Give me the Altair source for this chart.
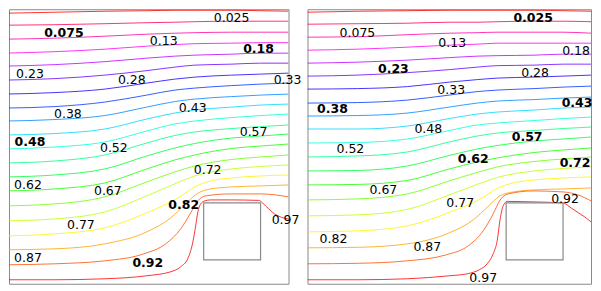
import colorsys
import altair as alt
import pandas as pd

# ---- contour levels and their printed labels ----
LEVELS = [0.025, 0.075, 0.125, 0.175, 0.225, 0.275, 0.325, 0.375, 0.425, 0.475,
          0.525, 0.575, 0.625, 0.675, 0.725, 0.775, 0.825, 0.875, 0.925, 0.975]
LEVEL_TEXT = ["0.025", "0.075", "0.13", "0.18", "0.23", "0.28", "0.33", "0.38", "0.43", "0.48",
              "0.52", "0.57", "0.62", "0.67", "0.72", "0.77", "0.82", "0.87", "0.92", "0.97"]

# ---- obstacle (same in both panels) ----
BOX_X = [199, 256]
BOX_Y = [28, 85]

# ---- sample abscissae shared by the smooth upper contours ----
X_COMMON = [0, 50, 100, 142, 170, 190, 227, 256, 284]

# ---- left panel: contour ordinates (levels 0.025 .. 0.775) ----
LEFT_Y = [
    [275, 276, 277, 277.5, 278, 278, 278, 277.5, 277],
    [263, 263.5, 264.5, 265.5, 266, 266.5, 267, 267, 267],
    [249, 250, 252, 254, 255, 255.5, 256, 256, 256],
    [235, 236.5, 239, 242, 243.5, 244.5, 245, 245.5, 245.5],
    [222, 223.5, 226.5, 230, 232, 233, 234, 235, 235],
    [208, 209.5, 213, 217.5, 221, 223, 224, 225, 225],
    [194, 195.5, 199, 205, 209, 211, 213, 214, 215],
    [180, 181.5, 186, 193, 198, 200, 202.5, 204, 205],
    [167, 168.5, 172.5, 181, 186.5, 189, 191.5, 193, 194],
    [153, 154.5, 159, 169, 175, 178, 181, 183, 184],
    [139, 141, 146, 157, 164, 167, 170.5, 172.5, 174],
    [125, 127, 133, 145, 152.5, 156, 159.5, 161.5, 163],
    [111, 113, 119, 132, 140, 144.5, 150, 152, 154],
    [97, 99, 105, 119, 128, 133, 139.5, 142, 144],
    [82, 84, 91, 106, 116, 122, 128.5, 131, 133],
    [67, 69, 76, 92, 104, 112, 119, 121.5, 123],
]
# lower contours bending round the obstacle
LEFT_082_X = [0, 50, 100, 142, 175, 190, 206, 227, 256, 284]
LEFT_082_Y = [52, 54, 60, 75, 91, 101, 107, 110, 112, 113]
LEFT_087_X = [0, 50, 100, 142, 166, 181, 192, 206, 227, 256, 284]
LEFT_087_Y = [38, 39, 44, 56, 70, 84, 94, 99, 101, 102, 103]
LEFT_092_X = [0, 50, 100, 139, 161, 176, 186, 193, 201, 226, 256, 271, 284]
LEFT_092_Y = [23, 24, 27, 34, 44, 59, 75, 87, 92, 94, 94, 93, 91]
LEFT_097_X = [0, 50, 100, 142, 166, 176, 183, 188, 191, 193, 196, 200, 206, 226, 254, 262, 270, 277, 284]
LEFT_097_Y = [8, 8, 9, 12, 16, 21, 29, 45, 62, 75, 84, 87, 88, 88, 87.5, 81, 74, 70.5, 69]

# ---- right panel ----
RIGHT_Y = [
    [276, 277, 277.5, 278, 278, 278, 278, 277.5, 277],
    [264, 264.5, 265, 266, 266, 266.5, 267, 267, 266.5],
    [251, 251.5, 253.5, 255, 255.5, 256, 256, 256, 255],
    [238, 239, 241, 243, 244, 245, 245, 245, 245],
    [225, 226, 228, 230.5, 232, 232.5, 233, 234, 234],
    [212, 213, 215.5, 218.5, 221, 222.5, 223, 224, 224],
    [199, 199.5, 201.5, 206, 208.5, 210, 211, 212, 213],
    [185, 185.5, 188, 193, 196.5, 198, 199.5, 201, 202],
    [172, 172.5, 175, 181, 185, 187, 188.5, 190, 191],
    [159, 159, 162, 169.5, 174, 176, 178, 180, 181],
    [145, 145.5, 149, 157.5, 163, 165, 167.5, 169.5, 171],
    [131, 132, 136, 146, 152, 155, 157.5, 159.5, 161],
    [117, 117.5, 122, 132.5, 139, 142.5, 147, 149, 151],
    [103, 103.5, 107.5, 119, 126, 130, 135.5, 138, 140],
    [88, 89, 94, 107, 115.5, 121, 126.5, 129, 131],
    [72, 73, 78.5, 93, 103.5, 110.5, 117, 119.5, 121],
]
RIGHT_082_X = [0, 50, 100, 142, 175, 190, 206, 227, 256, 284]
RIGHT_082_Y = [56, 57, 62, 75.5, 90, 99.5, 105, 108, 110, 111]
RIGHT_087_X = [0, 50, 100, 142, 166, 181, 192, 206, 227, 256, 284]
RIGHT_087_Y = [40, 40.5, 44, 55, 68, 81.5, 91.5, 96, 98, 99, 100]
RIGHT_092_X = [0, 50, 100, 139, 161, 176, 186, 193, 201, 226, 256, 271, 284]
RIGHT_092_Y = [24, 24.5, 27, 33, 42, 57, 74, 88, 94, 97, 96, 93, 87]
RIGHT_097_X = [0, 50, 100, 142, 160, 172, 180, 186, 190, 193, 196, 200, 226, 256, 264, 273, 279, 284]
RIGHT_097_Y = [8, 8, 9, 12, 14, 18, 24, 34, 47, 69, 82, 86.5, 86, 85, 80, 74, 70, 66]

# ---- inline label positions (data units) and weights ----
LEFT_LABEL_X = [227, 59, 159, 254, 25, 127, 283, 63, 188, 25, 109, 249, 23, 103, 203, 76, 179, 23, 143, 281]
LEFT_LABEL_Y = [270, 255, 247, 239, 214, 208, 208, 174, 180, 146, 140, 156, 103, 97, 118, 63, 83, 30, 25, 68]
LEFT_BOLD = ["0.075", "0.18", "0.48", "0.82", "0.92"]
RIGHT_LABEL_X = [226, 50, 145, 269, 86, 228, 144, 25, 270, 121, 43, 220, 166, 76, 268, 153, 26, 120, 258, 176]
RIGHT_LABEL_Y = [270, 255, 245, 237, 219, 215, 198, 179, 185, 159, 139, 151, 129, 98, 125, 85, 49, 41, 89, 10]
RIGHT_BOLD = ["0.025", "0.23", "0.38", "0.43", "0.57", "0.62", "0.72"]

# colours: reversed hsv colormap over the levels
lo, hi = LEVELS[0], LEVELS[-1]
COLORS = []
for v in LEVELS:
    r, g, b = colorsys.hsv_to_rgb(1.0 - (v - lo) / (hi - lo), 1.0, 1.0)
    COLORS.append("#%02x%02x%02x" % (round(r * 255), round(g * 255), round(b * 255)))

FRAME = "#8a8a8a"


def line_table(common_y, specials):
    rows = []
    for i, ys in enumerate(common_y):
        for k, (x, y) in enumerate(zip(X_COMMON, ys)):
            rows.append({"level": LEVEL_TEXT[i], "k": k, "x": x, "y": y})
    for j, (xs, ys) in enumerate(specials):
        i = len(common_y) + j
        for k, (x, y) in enumerate(zip(xs, ys)):
            rows.append({"level": LEVEL_TEXT[i], "k": k, "x": x, "y": y})
    return pd.DataFrame(rows)


def panel(lines_df, lab_x, lab_y, bold, xdom, width):
    xs = alt.Scale(domain=xdom, nice=False, zero=False)
    ys = alt.Scale(domain=[4, 279], nice=False, zero=False)
    color = alt.Color("level:N", scale=alt.Scale(domain=LEVEL_TEXT, range=COLORS), legend=None)
    lines = alt.Chart(lines_df).mark_line(
        strokeWidth=1, strokeOpacity=0.8, clip=True, interpolate="monotone"
    ).encode(
        x=alt.X("x:Q", scale=xs, axis=None),
        y=alt.Y("y:Q", scale=ys, axis=None),
        color=color,
        detail="level:N",
        order="k:Q",
    )
    box_df = pd.DataFrame({"x": [BOX_X[0]], "x2": [BOX_X[1]], "y": [BOX_Y[0]], "y2": [BOX_Y[1]]})
    box = alt.Chart(box_df).mark_rect(fillOpacity=0, stroke=FRAME, strokeWidth=1.2).encode(
        x="x:Q", x2="x2:Q", y="y:Q", y2="y2:Q"
    )
    lab = pd.DataFrame({"x": lab_x, "y": lab_y, "t": LEVEL_TEXT})
    lab["b"] = lab["t"].isin(bold)
    normal = alt.Chart(lab[~lab["b"]]).mark_text(
        font="DejaVu Sans", fontSize=12.5, color="black", baseline="middle"
    ).encode(x="x:Q", y="y:Q", text="t:N")
    heavy = alt.Chart(lab[lab["b"]]).mark_text(
        font="DejaVu Sans", fontSize=12.5, color="black", baseline="middle", fontWeight="bold"
    ).encode(x="x:Q", y="y:Q", text="t:N")
    return alt.layer(lines, box, normal, heavy).properties(width=width, height=275)


left = panel(
    line_table(LEFT_Y, [(LEFT_082_X, LEFT_082_Y), (LEFT_087_X, LEFT_087_Y),
                        (LEFT_092_X, LEFT_092_Y), (LEFT_097_X, LEFT_097_Y)]),
    LEFT_LABEL_X, LEFT_LABEL_Y, LEFT_BOLD, [4, 284], 280,
)
right = panel(
    line_table(RIGHT_Y, [(RIGHT_082_X, RIGHT_082_Y), (RIGHT_087_X, RIGHT_087_Y),
                         (RIGHT_092_X, RIGHT_092_Y), (RIGHT_097_X, RIGHT_097_Y)]),
    RIGHT_LABEL_X, RIGHT_LABEL_Y, RIGHT_BOLD, [0, 284], 284,
)

chart = alt.hconcat(left, right, spacing=19, bounds="flush").properties(
    padding=0
).configure_view(stroke=FRAME, strokeWidth=1)

chart.save("out.html", embed_options={"renderer": "svg", "actions": False})
